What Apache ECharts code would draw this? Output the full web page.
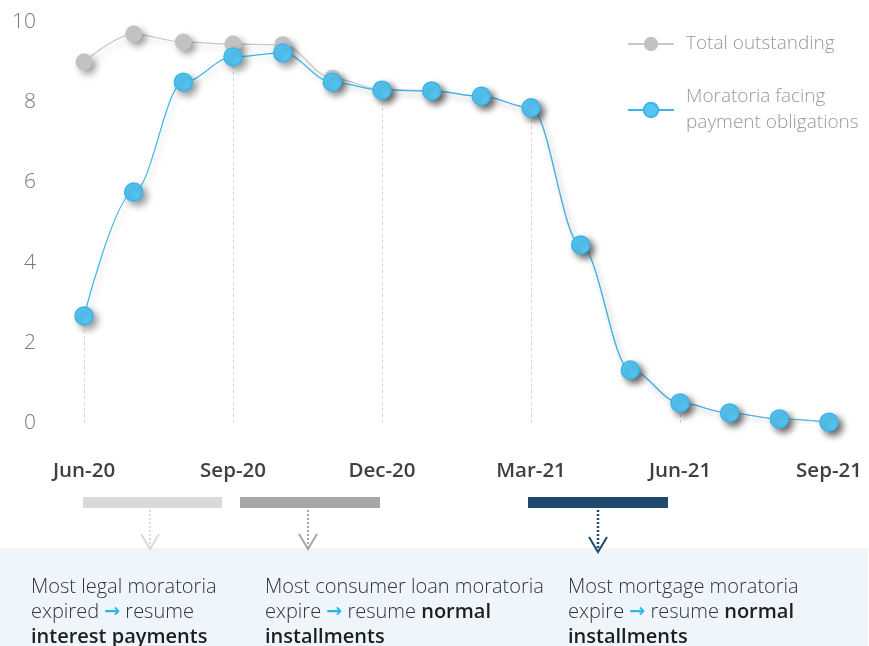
<!DOCTYPE html>
<html>
<head>
<meta charset="utf-8">
<script src="https://cdn.jsdelivr.net/npm/echarts@6/dist/echarts.min.js"></script>
<style>
  html, body { margin: 0; padding: 0; background: #ffffff; }
  #chart { width: 869px; height: 646px; }
</style>
</head>
<body>
<div id="chart"></div>
<script>
// Monthly moratoria volumes (EUR bn)
const months = ['Jun-20', 'Jul-20', 'Aug-20', 'Sep-20', 'Oct-20', 'Nov-20', 'Dec-20', 'Jan-21',
                'Feb-21', 'Mar-21', 'Apr-21', 'May-21', 'Jun-21', 'Jul-21', 'Aug-21', 'Sep-21'];
const totalOutstanding = [9.0, 9.7, 9.5, 9.45, 9.43, 8.6, 8.32, 8.28, 8.15, 7.86, 4.44, 1.32, 0.5, 0.25, 0.1, 0.02];
const facingPayment   = [2.67, 5.76, 8.5, 9.13, 9.23, 8.5, 8.3, 8.28, 8.15, 7.86, 4.44, 1.32, 0.5, 0.25, 0.1, 0.02];
const yTicks = { min: 0, max: 10, interval: 2 };
// Quarter-end months that get a dashed drop line
const quarterIdx = [0, 3, 6, 9, 12, 15];

const FONT = '"Open Sans", "Segoe UI", sans-serif';
const BLUE = '#3AB4EA';
const BLUE_FILL = '#55C6F3';
const ARROW_BLUE = '#2DB5EE';

const dropLines = quarterIdx.map(i => [
  { coord: [months[i], 0] },
  { coord: [months[i], facingPayment[i]] }
]);

const chart = echarts.init(document.getElementById('chart'), null, { renderer: 'canvas' });

const shadow = {
  shadowColor: 'rgba(0,0,0,0.38)',
  shadowBlur: 7,
  shadowOffsetX: 4,
  shadowOffsetY: 4
};

function note(x, lines) {
  return {
    type: 'text',
    left: x,
    top: 575,
    style: {
      text: lines,
      lineHeight: 25,
      rich: {
        n: { fontFamily: FONT, fontSize: 20, fontWeight: 300, fill: '#333333', lineHeight: 25 },
        a: { fontFamily: '"DejaVu Sans", sans-serif', fontSize: 19, fontWeight: 700, fill: ARROW_BLUE, lineHeight: 25 },
        b: { fontFamily: FONT, fontSize: 20, fontWeight: 600, fill: '#1e1e1e', lineHeight: 25 }
      }
    },
    z: 10
  };
}

function arrow(x, y0, y1, color, width) {
  return [
    {
      type: 'line',
      shape: { x1: x, y1: y0, x2: x, y2: y1 - 2 },
      style: { stroke: color, lineWidth: width, lineDash: [2, 2] },
      z: 11
    },
    {
      type: 'polyline',
      shape: { points: [[x - 9, y1 - 15], [x, y1], [x + 9, y1 - 15]] },
      style: { stroke: color, lineWidth: 2, fill: null },
      z: 11
    }
  ];
}

const option = {
  backgroundColor: '#ffffff',
  animation: false,
  grid: { left: 84, right: 40, top: 22, bottom: 223, containLabel: false },
  legend: {
    orient: 'vertical',
    left: 622,
    top: 26,
    itemWidth: 46,
    itemHeight: 18,
    itemGap: 27,
    itemStyle: { shadowBlur: 0, shadowOffsetX: 0, shadowOffsetY: 0 },
    lineStyle: { shadowBlur: 0, shadowOffsetX: 0, shadowOffsetY: 0 },
    textStyle: { fontFamily: FONT, fontSize: 19, fontWeight: 300, color: '#999999', lineHeight: 26, padding: [0, 0, 0, 7] },
    formatter: name => name.replace('facing ', 'facing\n'),
    data: ['Total outstanding', 'Moratoria facing payment obligations']
  },
  xAxis: {
    type: 'category',
    data: months,
    boundaryGap: false,
    axisLine: { show: false },
    axisTick: { show: false },
    splitLine: { show: false },
    axisLabel: {
      interval: 2,
      margin: 38,
      fontFamily: FONT,
      fontSize: 20.5,
      fontWeight: 600,
      color: '#404040'
    }
  },
  yAxis: {
    type: 'value',
    min: yTicks.min,
    max: yTicks.max,
    interval: yTicks.interval,
    axisLine: { show: false },
    axisTick: { show: false },
    splitLine: { show: false },
    axisLabel: {
      margin: 48,
      fontFamily: FONT,
      fontSize: 21,
      fontWeight: 300,
      color: '#777777'
    }
  },
  series: [
    {
      name: 'Total outstanding',
      type: 'line',
      data: totalOutstanding,
      smooth: 0.35,
      smoothMonotone: 'x',
      symbol: 'circle',
      symbolSize: 17,
      lineStyle: { color: '#C8C8C8', width: 1.2, shadowColor: 'rgba(0,0,0,0.2)', shadowBlur: 6, shadowOffsetX: 3, shadowOffsetY: 4 },
      itemStyle: Object.assign({ color: '#C2C2C2' }, shadow),
      z: 2
    },
    {
      name: 'Moratoria facing payment obligations',
      type: 'line',
      data: facingPayment,
      smooth: 0.35,
      smoothMonotone: 'x',
      symbol: 'circle',
      symbolSize: 18,
      lineStyle: { color: BLUE, width: 1.2, shadowColor: 'rgba(0,0,0,0.2)', shadowBlur: 6, shadowOffsetX: 3, shadowOffsetY: 4 },
      itemStyle: Object.assign({ color: BLUE_FILL, borderColor: BLUE, borderWidth: 1.5 }, shadow),
      markLine: {
        silent: true,
        symbol: ['none', 'none'],
        label: { show: false },
        lineStyle: { color: '#D2D2D2', type: [3, 3], width: 1, shadowBlur: 0 },
        emphasis: { disabled: true },
        data: dropLines,
        z: 1
      },
      z: 3
    }
  ],
  graphic: [
    // timeline bars
    { type: 'rect', shape: { x: 83, y: 497, width: 139, height: 11 }, style: { fill: '#D9D9D9' } },
    { type: 'rect', shape: { x: 240, y: 497, width: 140, height: 11 }, style: { fill: '#A6A6A6' } },
    { type: 'rect', shape: { x: 528, y: 497, width: 140, height: 11 }, style: { fill: '#1E4A6D' } },
    // note panel
    { type: 'rect', shape: { x: 0, y: 548, width: 868, height: 98 }, style: { fill: '#EEF6FC' }, z: 5 },
    ...arrow(150, 510, 549, '#D9D9D9', 2),
    ...arrow(308, 510, 549, '#A6A6A6', 2),
    ...arrow(598, 510, 552, '#1E4A6D', 2.5),
    note(31, '{n|Most legal moratoria}\n{n|expired }{a|→}{n| resume}\n{b|interest payments}'),
    note(265, '{n|Most consumer loan moratoria}\n{n|expire }{a|→}{n| resume }{b|normal}\n{b|installments}'),
    note(568, '{n|Most mortgage moratoria}\n{n|expire }{a|→}{n| resume }{b|normal}\n{b|installments}')
  ]
};

chart.setOption(option);
</script>
</body>
</html>
